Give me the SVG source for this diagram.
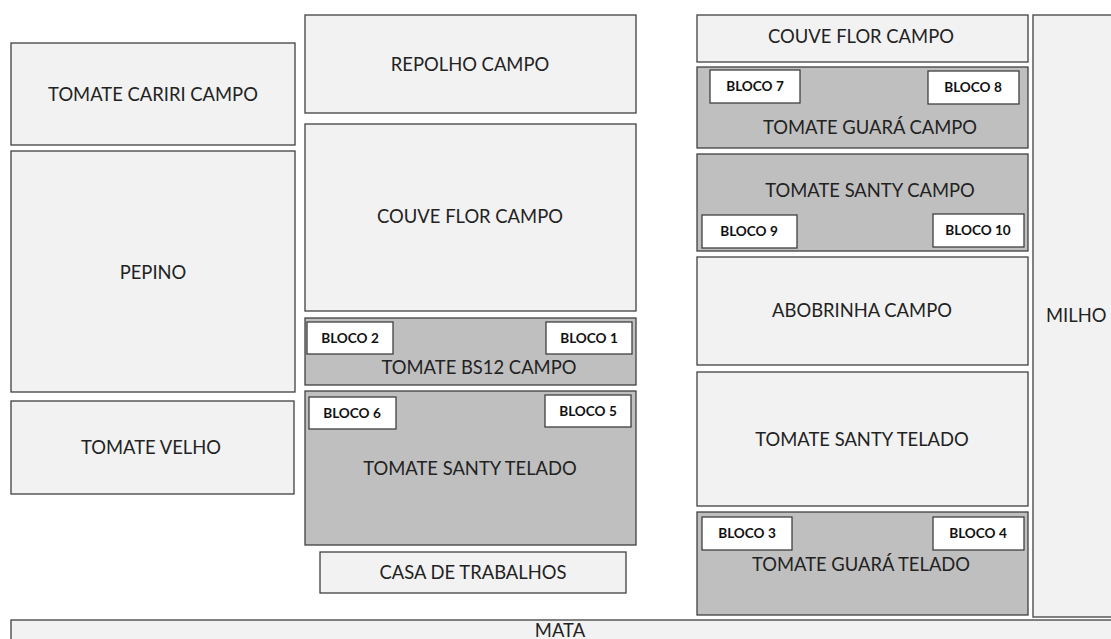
<svg xmlns="http://www.w3.org/2000/svg" width="1111" height="639" viewBox="0 0 1111 639">
<style>
.a{fill:#f2f2f2;stroke:#404040;stroke-width:1.3}
.g{fill:#bfbfbf;stroke:#404040;stroke-width:1.3}
.b{fill:#ffffff;stroke:#404040;stroke-width:1.3}
.t{font-family:Lato,"Liberation Sans",sans-serif;font-size:18.4px;fill:#222;text-anchor:middle}
.s{font-family:Lato,"Liberation Sans",sans-serif;font-size:13.6px;font-weight:bold;fill:#111;text-anchor:middle}
</style>
<rect x="0" y="0" width="1111" height="639" fill="#ffffff"/>
<g id="tomate-cariri"><rect class="a" x="11" y="43" width="284" height="102"/><text class="t" x="153" y="101">TOMATE CARIRI CAMPO</text></g>
<g id="pepino"><rect class="a" x="11" y="151" width="284" height="241"/><text class="t" x="153" y="279">PEPINO</text></g>
<g id="tomate-velho"><rect class="a" x="11" y="401" width="283" height="93"/><text class="t" x="151" y="454">TOMATE VELHO</text></g>
<g id="repolho"><rect class="a" x="305" y="15" width="331" height="98"/><text class="t" x="470" y="71">REPOLHO CAMPO</text></g>
<g id="couve-flor-1"><rect class="a" x="305" y="124" width="331" height="187"/><text class="t" x="470" y="223">COUVE FLOR CAMPO</text></g>
<g id="tomate-bs12"><rect class="g" x="305" y="318" width="331" height="67"/>
<rect class="b" x="307" y="322" width="86" height="32"/><text class="s" x="350" y="343">BLOCO 2</text>
<rect class="b" x="546" y="322" width="86" height="32"/><text class="s" x="589" y="343">BLOCO 1</text>
<text class="t" x="479" y="374">TOMATE BS12 CAMPO</text></g>
<g id="tomate-santy-telado-1"><rect class="g" x="305" y="391" width="331" height="154"/>
<rect class="b" x="309" y="397" width="87" height="32"/><text class="s" x="352" y="418">BLOCO 6</text>
<rect class="b" x="545" y="395" width="86" height="32"/><text class="s" x="588" y="416">BLOCO 5</text>
<text class="t" x="470" y="475">TOMATE SANTY TELADO</text></g>
<g id="casa"><rect class="a" x="320" y="552" width="306" height="41"/><text class="t" x="473" y="579">CASA DE TRABALHOS</text></g>
<g id="couve-flor-2"><rect class="a" x="697" y="15" width="331" height="47"/><text class="t" x="861" y="43">COUVE FLOR CAMPO</text></g>
<g id="tomate-guara-campo"><rect class="g" x="697" y="67" width="331" height="81"/>
<rect class="b" x="710" y="70" width="90" height="33"/><text class="s" x="755" y="91">BLOCO 7</text>
<rect class="b" x="928" y="71" width="91" height="33"/><text class="s" x="973" y="92">BLOCO 8</text>
<text class="t" x="870" y="134">TOMATE GUARÁ CAMPO</text></g>
<g id="tomate-santy-campo"><rect class="g" x="697" y="154" width="331" height="97"/>
<rect class="b" x="702" y="215" width="95" height="33"/><text class="s" x="749" y="236">BLOCO 9</text>
<rect class="b" x="933" y="214" width="91" height="33"/><text class="s" x="978" y="235">BLOCO 10</text>
<text class="t" x="870" y="197">TOMATE SANTY CAMPO</text></g>
<g id="abobrinha"><rect class="a" x="697" y="257" width="331" height="108"/><text class="t" x="862" y="317">ABOBRINHA CAMPO</text></g>
<g id="tomate-santy-telado-2"><rect class="a" x="697" y="372" width="331" height="134"/><text class="t" x="862" y="446">TOMATE SANTY TELADO</text></g>
<g id="tomate-guara-telado"><rect class="g" x="697" y="512" width="331" height="103"/>
<rect class="b" x="702" y="517" width="90" height="33"/><text class="s" x="747" y="538">BLOCO 3</text>
<rect class="b" x="933" y="517" width="91" height="33"/><text class="s" x="978" y="538">BLOCO 4</text>
<text class="t" x="861" y="571">TOMATE GUARÁ TELADO</text></g>
<g id="milho"><rect class="a" x="1033" y="15" width="90" height="602"/><text class="t" x="1046" y="322" style="text-anchor:start">MILHO</text></g>
<g id="mata"><rect class="a" x="11" y="620" width="1120" height="40"/><text class="t" x="560" y="637">MATA</text></g>
<g id="connectors"></g>
</svg>
